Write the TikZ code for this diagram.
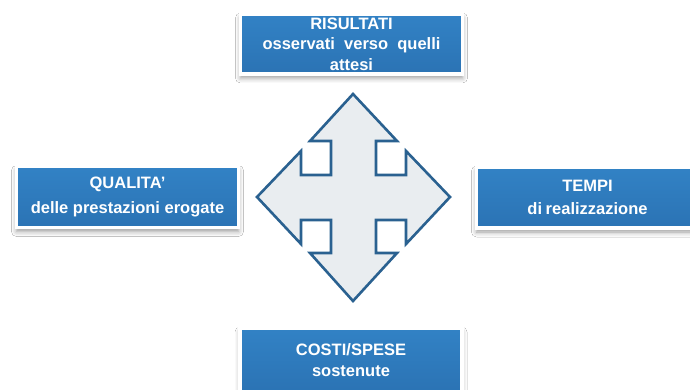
\documentclass[tikz,border=0pt]{standalone}
\usepackage{fontspec}
\setmainfont{Liberation Sans}
\usetikzlibrary{shadows.blur}
\definecolor{boxtop}{HTML}{3282C5}
\definecolor{boxbot}{HTML}{2B73B4}
\definecolor{boxedge}{HTML}{23629C}
\definecolor{arrowline}{HTML}{2A6190}
\definecolor{arrowfill}{HTML}{E9EDF0}
\tikzset{
  infobox/.style={draw=white, line width=3.5pt, top color=boxtop, bottom color=boxbot,
    minimum width=222pt, minimum height=61pt, text=white, align=center,
    font=\fontsize{16.5}{23}\selectfont\bfseries, inner sep=0pt,
    blur shadow={shadow xshift=0pt, shadow yshift=-4pt, shadow blur radius=5pt, shadow opacity=40},
    append after command={
      \pgfextra{\draw[boxedge, line width=1pt]
        ([shift={(1.5pt,-1.5pt)}]\tikzlastnode.north west) rectangle
        ([shift={(-1.5pt,1.5pt)}]\tikzlastnode.south east);}}},
  crossarrow/.style={draw=arrowline, fill=arrowfill, line width=2.6pt, line join=miter}
}
\begin{document}
\begin{tikzpicture}[x=1pt,y=-1pt]
\useasboundingbox (0,0) rectangle (690,390);
\fill[white] (0,0) rectangle (690,390);
% central four-way arrow
\draw[crossarrow] (353,94) -- (397,141) -- (376,141) -- (376,175) -- (406,175) -- (406,151)
  -- (450,197) -- (406,244) -- (406,220) -- (376,220) -- (376,253) -- (397,253)
  -- (353,301) -- (310,253) -- (331,253) -- (331,220) -- (301,220) -- (301,244)
  -- (257,197) -- (301,151) -- (301,175) -- (331,175) -- (331,141) -- (310,141) -- cycle;
\node[infobox, minimum height=60pt, font=\fontsize{16.5}{20.5}\selectfont\bfseries] (top) at (351.5,44) {RISULTATI\\osservati\ \ verso\ \ quelli\\attesi};
\node[infobox, font=\fontsize{16.5}{25}\selectfont\bfseries] (left) at (127.5,197) {QUALITA'\\delle prestazioni erogate};
\node[infobox, font=\fontsize{16.5}{22.5}\selectfont\bfseries] (right) at (587.5,197.5) {TEMPI\\di\kern-1pt{} realizzazione};
\node[infobox, minimum height=64pt, font=\fontsize{16.5}{21.5}\selectfont\bfseries] (bottom) at (351,360) {COSTI/SPESE\\sostenute};
\end{tikzpicture}
\end{document}
